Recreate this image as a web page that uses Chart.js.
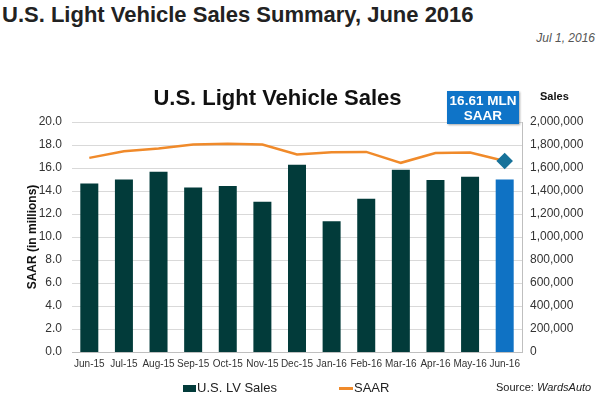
<!DOCTYPE html>
<html lang="en">
<head>
    <meta charset="UTF-8">
    <title>U.S. Light Vehicle Sales Summary, June 2016</title>
    <script src="https://cdn.jsdelivr.net/npm/chart.js"></script>
    <style>
        body {
            margin: 0;
            width: 603px;
            height: 398px;
            position: relative;
            overflow: hidden;
            background: #fff;
            font-family: 'Liberation Sans', Arial, sans-serif;
            color: #222;
        }

        /* Page heading */
        .page-title {
            position: absolute;
            left: 2px;
            top: 2px;
            font-size: 22px;
            font-weight: bold;
            color: #222;
        }

        .page-date {
            position: absolute;
            right: 8px;
            top: 31px;
            font-size: 12px;
            font-style: italic;
            color: #555;
        }

        .chart-title {
            position: absolute;
            left: 0;
            width: 555px;
            top: 85px;
            text-align: center;
            font-size: 22px;
            font-weight: bold;
            color: #111;
        }

        /* Callout box */
        .callout {
            position: absolute;
            left: 447px;
            top: 91px;
            width: 72px;
            height: 33px;
            background: #0f74c8;
            color: #fff;
            font-size: 13.5px;
            font-weight: bold;
            line-height: 15px;
            text-align: center;
            padding-top: 2px;
            box-sizing: border-box;
            box-shadow: 1px 1px 2px rgba(0, 0, 0, 0.35);
        }

        .right-title {
            position: absolute;
            left: 540px;
            top: 90px;
            font-size: 11px;
            font-weight: bold;
            color: #111;
        }

        canvas {
            position: absolute;
            left: 0;
            top: 0;
        }

        /* Legend */
        .legend {
            position: absolute;
            top: 380px;
            left: 0;
            font-size: 13px;
            color: #222;
        }

        .legend span {
            position: absolute;
            white-space: nowrap;
        }

        .legend i {
            display: inline-block;
            margin-right: 1px;
            vertical-align: middle;
        }

        .source {
            position: absolute;
            left: 496px;
            top: 381px;
            font-size: 11px;
            color: #222;
        }
    </style>
</head>

<body>
    <div class="page-title">U.S. Light Vehicle Sales Summary, June 2016</div>
    <div class="page-date">Jul 1, 2016</div>

    <canvas id="salesChart" width="603" height="398"></canvas>

    <div class="chart-title">U.S. Light Vehicle Sales</div>
    <div class="right-title">Sales</div>
    <div class="callout">16.61 MLN<br>SAAR</div>

    <div class="legend" id="legend"></div>
    <div class="source">Source: <i>WardsAuto</i></div>

    <script>
        // Months shown on the x axis
        const months = [
            "Jun-15", "Jul-15", "Aug-15", "Sep-15", "Oct-15", "Nov-15", "Dec-15",
            "Jan-16", "Feb-16", "Mar-16", "Apr-16", "May-16", "Jun-16"
        ];

        // Monthly U.S. light vehicle sales (units, right axis)
        const lvSales = [
            1466000, 1500000, 1567000, 1431000, 1443000, 1307000, 1628000,
            1137000, 1333000, 1584000, 1495000, 1524000, 1500000
        ];

        // Seasonally adjusted annual rate (millions, left axis)
        const saar = [
            16.88, 17.46, 17.69, 18.04, 18.10, 18.04, 17.17,
            17.37, 17.40, 16.45, 17.30, 17.34, 16.61
        ];

        // Tick values
        const saarTicks = [0, 2, 4, 6, 8, 10, 12, 14, 16, 18, 20];
        const salesTicks = [0, 200000, 400000, 600000, 800000, 1000000, 1200000, 1400000, 1600000, 1800000, 2000000];

        const barColors = months.map((m, i) => i === months.length - 1 ? '#0f72c4' : '#023b3a');
        const pointRadii = months.map((m, i) => i === months.length - 1 ? 6.5 : 0);

        const tickFont = { family: "'Liberation Sans', Arial, sans-serif", size: 12 };

        const ctx = document.getElementById('salesChart').getContext('2d');
        const salesChart = new Chart(ctx, {
            data: {
                labels: months,
                datasets: [
                    {
                        type: 'line',
                        label: 'SAAR',
                        data: saar,
                        yAxisID: 'ySaar',
                        borderColor: '#f08a2a',
                        borderWidth: 2.5,
                        tension: 0,
                        pointRadius: pointRadii,
                        pointStyle: 'rectRot',
                        pointBackgroundColor: '#17729a',
                        pointBorderColor: '#17729a',
                        order: 0
                    },
                    {
                        type: 'bar',
                        label: 'U.S. LV Sales',
                        data: lvSales,
                        yAxisID: 'ySales',
                        backgroundColor: barColors,
                        barPercentage: 0.52,
                        categoryPercentage: 1,
                        order: 1
                    }
                ]
            },
            options: {
                responsive: false,
                animation: false,
                layout: { padding: { top: 122, left: 0, right: 0, bottom: 0 } },
                plugins: {
                    legend: { display: false },
                    tooltip: { enabled: false }
                },
                scales: {
                    x: {
                        grid: { display: false, drawTicks: false },
                        border: { color: '#bfbfbf' },
                        ticks: { color: '#333', font: { ...tickFont, size: 10 }, padding: 6, maxRotation: 0, autoSkip: false },
                        afterFit: (scale) => { scale.height = 46; }
                    },
                    ySaar: {
                        position: 'left',
                        min: 0,
                        max: 20,
                        afterBuildTicks: (scale) => { scale.ticks = saarTicks.map(v => ({ value: v })); },
                        grid: { color: '#d9d9d9', drawTicks: false },
                        border: { display: false },
                        ticks: { color: '#333', font: tickFont, padding: 10, callback: (v) => v.toFixed(1) },
                        title: {
                            display: true,
                            text: 'SAAR (in millions)',
                            color: '#111',
                            font: { ...tickFont, size: 12, weight: 'bold' },
                            padding: { top: 25, bottom: 0 }
                        },
                        afterFit: (scale) => { scale.width = 72; }
                    },
                    ySales: {
                        position: 'right',
                        min: 0,
                        max: 2000000,
                        afterBuildTicks: (scale) => { scale.ticks = salesTicks.map(v => ({ value: v })); },
                        grid: { display: false, drawTicks: false },
                        border: { color: '#bfbfbf' },
                        ticks: { color: '#333', font: tickFont, padding: 8, callback: (v) => v.toLocaleString('en-US') },
                        afterFit: (scale) => { scale.width = 81; }
                    }
                }
            }
        });

        // Legend built from the datasets
        const legend = document.getElementById('legend');
        const legendSpots = [183, 339];
        [salesChart.data.datasets[1], salesChart.data.datasets[0]].forEach((ds, i) => {
            const item = document.createElement('span');
            item.style.left = legendSpots[i] + 'px';
            const key = document.createElement('i');
            if (ds.type === 'bar') {
                key.style.width = '13px';
                key.style.height = '7px';
                key.style.background = '#023b3a';
            } else {
                key.style.width = '14px';
                key.style.height = '2.5px';
                key.style.background = ds.borderColor;
            }
            item.appendChild(key);
            item.appendChild(document.createTextNode(ds.label));
            legend.appendChild(item);
        });
    </script>
</body>
</html>
